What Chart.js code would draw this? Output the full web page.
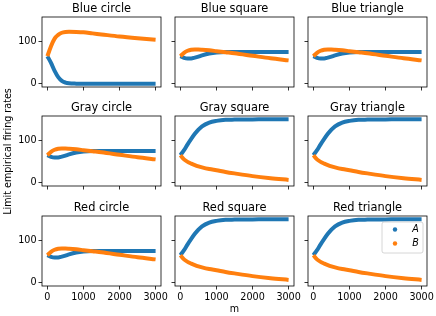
<!DOCTYPE html>
<html>
<head>
<meta charset="utf-8">
<script src="https://cdn.jsdelivr.net/npm/chart.js@4.4.1/dist/chart.umd.min.js"></script>
<style>
  html, body { margin: 0; padding: 0; background: #fff; }
  #fig { position: relative; width: 436px; height: 316px; }
  #fig canvas { position: absolute; left: 0; top: 0; }
</style>
</head>
<body>
<div id="fig"></div>
<script>
"use strict";
// sampled m values (x) shared by every series
const mSteps = [0, 100, 200, 300, 400, 500, 600, 800, 1000, 1250, 1500, 2000, 2500, 3000];

// "Blue circle" shape
const collapseA = [66, 50, 31, 16, 7, 3, 1.3, 0.4, 0.1, 0, 0, 0, 0, 0];
const peakB = [66, 90, 108, 117, 122, 124, 124.5, 124, 123, 120.5, 118, 113, 109, 105.5];
// "Blue square" / "Blue triangle" / "Gray circle" / "Red circle" shape
const dipA = [66, 62, 60.5, 60.5, 62.5, 65, 68, 72.5, 75, 76, 76, 76, 76, 76];
const bumpB = [66, 74, 79, 81.5, 82, 82, 81.5, 80, 78, 75.5, 73, 67, 61, 56];
// "Gray square" / "Gray triangle" / "Red square" / "Red triangle" shape
const riseA = [66, 78, 92, 105, 117, 127, 135, 144, 148, 150.5, 151, 151.5, 152, 152];
const decayB = [66, 56, 50, 46, 42.5, 39.5, 37, 33, 30, 26, 22.5, 16, 11, 7];

const panelTitles = ['Blue circle', 'Blue square', 'Blue triangle',
                     'Gray circle', 'Gray square', 'Gray triangle',
                     'Red circle', 'Red square', 'Red triangle'];
const panelA = [collapseA, dipA, dipA, dipA, riseA, riseA, dipA, riseA, riseA];
const panelB = [peakB, bumpB, bumpB, bumpB, decayB, decayB, bumpB, decayB, decayB];
const seriesNames = ['A', 'B'];

const xTickVals = [0, 1000, 2000, 3000];
const yTickVals = [0, 100];

const blue = '#1f77b4';
const orange = '#ff7f0e';
const font = 'DejaVu Sans';
Chart.defaults.font.family = font;
Chart.defaults.color = '#000';

const W = 436, H = 316;
const colLeft = [42, 175, 308];
const rowTop = [17, 116, 216];
const axW = 119, axH = 70;
const yW = 30, xH = 22;

function toPoints(ys) {
    return mSteps.map((m, i) => ({ x: m, y: ys[i] }));
}

const framePlugin = {
    id: 'frame',
    afterDraw(chart, args, opts) {
        const ctx = chart.ctx;
        const a = chart.chartArea;
        ctx.save();
        ctx.strokeStyle = '#000';
        ctx.lineWidth = 0.8;
        ctx.strokeRect(a.left, a.top, a.right - a.left, a.bottom - a.top);
        ctx.fillStyle = '#000';
        ctx.font = '11.4px "' + font + '"';
        ctx.textAlign = 'center';
        ctx.textBaseline = 'alphabetic';
        ctx.fillText(opts.title, (a.left + a.right) / 2, a.top - 5.5);
        ctx.restore();
    }
};

const legendPlugin = {
    id: 'cornerLegend',
    afterDraw(chart, args, opts) {
        if (!opts.show) return;
        const ctx = chart.ctx;
        const a = chart.chartArea;
        const bx = a.right - 45, by = a.top + 6, bw = 41, bh = 31;
        ctx.save();
        ctx.beginPath();
        ctx.roundRect(bx, by, bw, bh, 2);
        ctx.fillStyle = 'rgba(255,255,255,0.8)';
        ctx.fill();
        ctx.strokeStyle = '#cccccc';
        ctx.lineWidth = 0.8;
        ctx.stroke();
        const colors = [blue, orange];
        ctx.font = 'italic 9.6px "' + font + '"';
        ctx.textAlign = 'center';
        ctx.textBaseline = 'middle';
        seriesNames.forEach((name, i) => {
            const cy = by + 7.5 + i * 14;
            ctx.beginPath();
            ctx.arc(bx + 13, cy, 2.2, 0, Math.PI * 2);
            ctx.fillStyle = colors[i];
            ctx.fill();
            ctx.fillStyle = '#000';
            ctx.fillText(name, bx + 33.5, cy);
        });
        ctx.restore();
    }
};

const figLabelPlugin = {
    id: 'figLabels',
    afterDraw(chart, args, opts) {
        if (!opts.show) return;
        const ctx = chart.ctx;
        ctx.save();
        ctx.fillStyle = '#000';
        ctx.font = '9.6px "' + font + '"';
        ctx.textAlign = 'center';
        ctx.textBaseline = 'alphabetic';
        ctx.fillText('m', (colLeft[0] + colLeft[2] + axW) / 2, 312);
        ctx.translate(10.5, (rowTop[0] + rowTop[2] + axH) / 2);
        ctx.rotate(-Math.PI / 2);
        ctx.fillText('Limit empirical firing rates', 0, 0);
        ctx.restore();
    }
};

const fig = document.getElementById('fig');

panelTitles.forEach((title, idx) => {
    const r = Math.floor(idx / 3), c = idx % 3;
    const canvas = document.createElement('canvas');
    canvas.width = W;
    canvas.height = H;
    fig.appendChild(canvas);
    const x0 = colLeft[c], y0 = rowTop[r];

    new Chart(canvas.getContext('2d'), {
        type: 'line',
        data: {
            datasets: [
                { label: seriesNames[0], data: toPoints(panelA[idx]), borderColor: blue, order: 1 },
                { label: seriesNames[1], data: toPoints(panelB[idx]), borderColor: orange, order: 0 }
            ]
        },
        options: {
            responsive: false,
            animation: false,
            events: [],
            layout: {
                padding: { left: x0 - yW, top: y0, right: W - x0 - axW, bottom: H - y0 - axH - xH }
            },
            elements: {
                point: { radius: 0 },
                line: { borderWidth: 4, fill: false, cubicInterpolationMode: 'monotone' }
            },
            scales: {
                x: {
                    type: 'linear',
                    min: -150,
                    max: 3150,
                    afterBuildTicks: s => { s.ticks = xTickVals.map(v => ({ value: v })); },
                    afterFit: s => { s.height = xH; s.paddingLeft = 0; s.paddingRight = 0; },
                    grid: { drawOnChartArea: false, drawTicks: true, tickLength: 3.5, tickColor: '#000', tickWidth: 0.8 },
                    border: { display: false },
                    ticks: { display: r === 2, maxRotation: 0, autoSkip: false, padding: 2, color: '#000', font: { size: 9.6 },
                             callback: v => String(v) }
                },
                y: {
                    type: 'linear',
                    min: -7.6,
                    max: 159.6,
                    afterBuildTicks: s => { s.ticks = yTickVals.map(v => ({ value: v })); },
                    afterFit: s => { s.width = yW; s.paddingTop = 0; s.paddingBottom = 0; },
                    grid: { drawOnChartArea: false, drawTicks: true, tickLength: 3.5, tickColor: '#000', tickWidth: 0.8 },
                    border: { display: false },
                    ticks: { display: c === 0, padding: 2, color: '#000', font: { size: 9.6 },
                             callback: v => String(v) }
                }
            },
            plugins: {
                legend: { display: false },
                tooltip: { enabled: false },
                frame: { title: title },
                cornerLegend: { show: idx === 8 },
                figLabels: { show: idx === 8 }
            }
        },
        plugins: [framePlugin, legendPlugin, figLabelPlugin]
    });
});
</script>
</body>
</html>
